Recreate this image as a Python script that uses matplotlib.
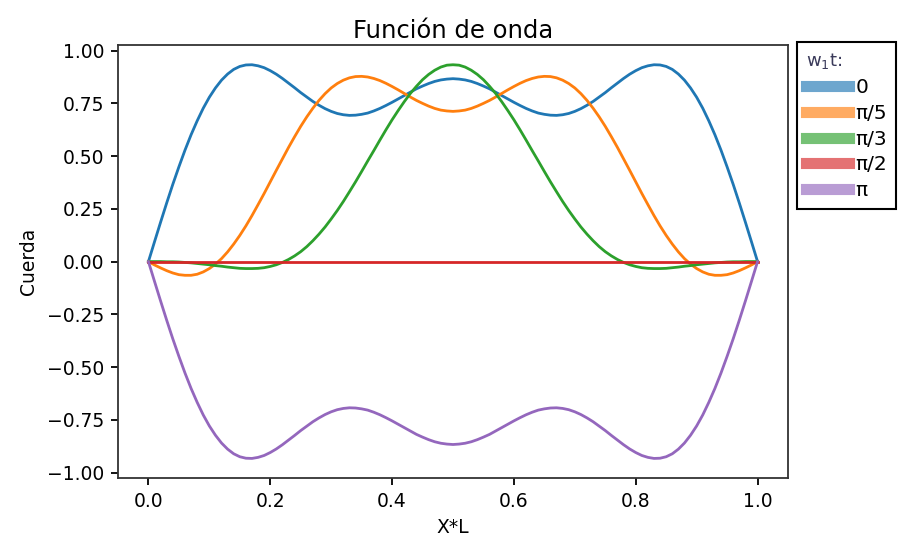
import matplotlib
matplotlib.use("Agg")
import matplotlib.pyplot as plt

x = [round(0.01 * i, 2) for i in range(101)]

y_0 = [0.000, 0.094, 0.187, 0.278, 0.366, 0.449, 0.528, 0.601, 0.667, 0.727,
       0.779, 0.823, 0.860, 0.889, 0.911, 0.925, 0.932, 0.933, 0.928, 0.919,
       0.905, 0.888, 0.868, 0.846, 0.824, 0.801, 0.780, 0.759, 0.741, 0.725,
       0.712, 0.702, 0.696, 0.693, 0.694, 0.698, 0.704, 0.714, 0.726, 0.740,
       0.755, 0.771, 0.787, 0.803, 0.819, 0.832, 0.844, 0.854, 0.861, 0.865,
       0.867,
       0.865, 0.861, 0.854, 0.844, 0.832, 0.819, 0.803, 0.787, 0.771, 0.755,
       0.740, 0.726, 0.714, 0.704, 0.698, 0.694, 0.693, 0.696, 0.702, 0.712,
       0.725, 0.741, 0.759, 0.780, 0.801, 0.824, 0.846, 0.868, 0.888, 0.905,
       0.919, 0.928, 0.933, 0.932, 0.925, 0.911, 0.889, 0.860, 0.823, 0.779,
       0.727, 0.667, 0.601, 0.528, 0.449, 0.366, 0.278, 0.187, 0.094, 0.000]

y_pi5 = [0.000, -0.016, -0.030, -0.043, -0.054, -0.062, -0.065, -0.065, -0.060, -0.049,
         -0.033, -0.012, 0.014, 0.046, 0.083, 0.124, 0.169, 0.218, 0.270, 0.323,
         0.378, 0.433, 0.487, 0.541, 0.592, 0.641, 0.686, 0.727, 0.764, 0.796,
         0.823, 0.844, 0.860, 0.871, 0.877, 0.878, 0.875, 0.868, 0.858, 0.845,
         0.830, 0.814, 0.797, 0.780, 0.764, 0.750, 0.737, 0.726, 0.718, 0.714,
         0.712,
         0.714, 0.718, 0.726, 0.737, 0.750, 0.764, 0.780, 0.797, 0.814, 0.830,
         0.845, 0.858, 0.868, 0.875, 0.878, 0.877, 0.871, 0.860, 0.844, 0.823,
         0.796, 0.764, 0.727, 0.686, 0.641, 0.592, 0.541, 0.487, 0.433, 0.378,
         0.323, 0.270, 0.218, 0.169, 0.124, 0.083, 0.046, 0.014, -0.012, -0.033,
         -0.049, -0.060, -0.065, -0.065, -0.062, -0.054, -0.043, -0.030, -0.016, 0.000]

y_pi3 = [0.000, 0.000, -0.000, -0.001, -0.001, -0.002, -0.004, -0.006, -0.009, -0.012,
         -0.015, -0.019, -0.022, -0.026, -0.029, -0.032, -0.033, -0.033, -0.032, -0.029,
         -0.023, -0.015, -0.004, 0.010, 0.027, 0.047, 0.071, 0.099, 0.130, 0.164,
         0.202, 0.242, 0.285, 0.331, 0.378, 0.427, 0.477, 0.526, 0.576, 0.625,
         0.672, 0.716, 0.758, 0.797, 0.831, 0.862, 0.887, 0.907, 0.922, 0.931,
         0.933,
         0.931, 0.922, 0.907, 0.887, 0.862, 0.831, 0.797, 0.758, 0.716, 0.672,
         0.625, 0.576, 0.526, 0.477, 0.427, 0.378, 0.331, 0.285, 0.242, 0.202,
         0.164, 0.130, 0.099, 0.071, 0.047, 0.027, 0.010, -0.004, -0.015, -0.023,
         -0.029, -0.032, -0.033, -0.033, -0.032, -0.029, -0.026, -0.022, -0.019, -0.015,
         -0.012, -0.009, -0.006, -0.004, -0.002, -0.001, -0.001, -0.000, 0.000, 0.000]

y_pi2 = [0.0] * 101

y_pi = [-0.000, -0.094, -0.187, -0.278, -0.366, -0.449, -0.528, -0.601, -0.667, -0.727,
        -0.779, -0.823, -0.860, -0.889, -0.911, -0.925, -0.932, -0.933, -0.928, -0.919,
        -0.905, -0.888, -0.868, -0.846, -0.824, -0.801, -0.780, -0.759, -0.741, -0.725,
        -0.712, -0.702, -0.696, -0.693, -0.694, -0.698, -0.704, -0.714, -0.726, -0.740,
        -0.755, -0.771, -0.787, -0.803, -0.819, -0.832, -0.844, -0.854, -0.861, -0.865,
        -0.867,
        -0.865, -0.861, -0.854, -0.844, -0.832, -0.819, -0.803, -0.787, -0.771, -0.755,
        -0.740, -0.726, -0.714, -0.704, -0.698, -0.694, -0.693, -0.696, -0.702, -0.712,
        -0.725, -0.741, -0.759, -0.780, -0.801, -0.824, -0.846, -0.868, -0.888, -0.905,
        -0.919, -0.928, -0.933, -0.932, -0.925, -0.911, -0.889, -0.860, -0.823, -0.779,
        -0.727, -0.667, -0.601, -0.528, -0.449, -0.366, -0.278, -0.187, -0.094, -0.000]

labels = ["0", "π/5", "π/3", "π/2", "π"]
series = [y_0, y_pi5, y_pi3, y_pi2, y_pi]
colors = ["#1f77b4", "#ff7f0e", "#2ca02c", "#d62728", "#9467bd"]

TICK_FS = 13.5
LABEL_FS = 13.5
LEG_FS = 14.5
LEG_TITLE_FS = 13

plt.rcParams["font.family"] = ["DejaVu Sans"]
fig = plt.figure(figsize=(9.04, 5.43), dpi=100)
ax = fig.add_axes([0.1305, 0.1195, 0.7412, 0.7975])

for ys, lab, c in zip(series, labels, colors):
    ax.plot(x, ys, color=c, lw=2, label=lab)

ax.set_xticks([0.0, 0.2, 0.4, 0.6, 0.8, 1.0])
ax.set_yticks([-1.0, -0.75, -0.5, -0.25, 0.0, 0.25, 0.5, 0.75, 1.0])
ax.tick_params(labelsize=TICK_FS, length=5, width=1.3, pad=5)
for s in ax.spines.values():
    s.set_linewidth(1.3)
    s.set_color("#333333")

ax.set_title("Función de onda", fontsize=17.5, pad=5)
ax.set_xlabel("X*L", fontsize=LABEL_FS, labelpad=5)
ax.set_ylabel("Cuerda", fontsize=LABEL_FS, labelpad=6)

leg = ax.legend(title="w$_1$t:", loc="upper left", bbox_to_anchor=(1.0134, 1.007),
                fontsize=LEG_FS, title_fontsize=LEG_TITLE_FS, fancybox=False,
                framealpha=1, edgecolor="black", handlelength=2.15,
                handletextpad=0.3, borderpad=0.45, labelspacing=0.34,
                borderaxespad=0)
leg.get_frame().set_linewidth(1.5)
leg._legend_box.align = "left"
leg.get_title().set_color("#3a3a5a")
for h in leg.get_lines():
    h.set_linewidth(8)
    h.set_alpha(0.65)

fig.canvas.draw()
for t in ax.get_xticklabels() + ax.get_yticklabels():
    t.set_fontsize(TICK_FS)
ax.xaxis.label.set_fontsize(LABEL_FS)
ax.yaxis.label.set_fontsize(LABEL_FS)
for t in leg.get_texts():
    t.set_fontsize(LEG_FS)
leg.get_title().set_fontsize(LEG_TITLE_FS)
fig.canvas.draw()

fig.savefig("out.png", dpi=100)
